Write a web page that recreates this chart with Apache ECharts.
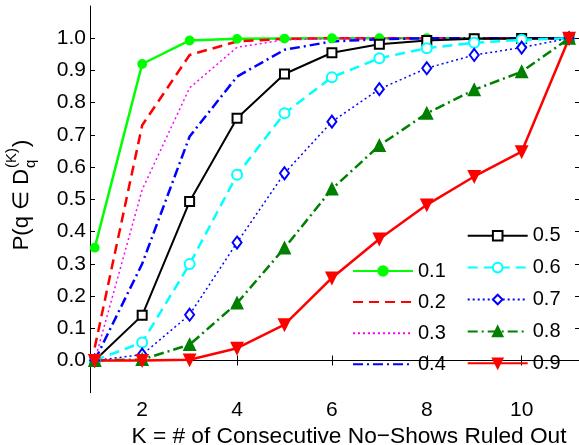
<!DOCTYPE html>
<html>
<head>
<meta charset="utf-8">
<script src="https://cdn.jsdelivr.net/npm/echarts@6/dist/echarts.min.js"></script>
<style>
html,body{margin:0;padding:0;background:#fff;}
#chart{width:579px;height:445px;}
</style>
</head>
<body>
<div id="chart"></div>
<script>
// ---- data ----
const K = [1, 2, 3, 4, 5, 6, 7, 8, 9, 10, 11];
const qNames = ['0.1', '0.2', '0.3', '0.4', '0.5', '0.6', '0.7', '0.8', '0.9'];
const p01 = [0.35, 0.92, 0.993, 0.998, 0.999, 1, 1, 1, 1, 1, 1];
const p02 = [0.04, 0.73, 0.948, 0.99, 0.998, 1, 1, 1, 1, 1, 1];
const p03 = [0.0, 0.53, 0.846, 0.972, 0.995, 0.999, 1, 1, 1, 1, 1];
const p04 = [0.0, 0.30, 0.695, 0.881, 0.964, 0.99, 0.997, 1, 1, 1, 1];
const p05 = [0.0, 0.14, 0.493, 0.752, 0.889, 0.955, 0.981, 0.993, 0.998, 0.999, 1];
const p06 = [0.0, 0.056, 0.299, 0.576, 0.767, 0.879, 0.938, 0.969, 0.986, 0.995, 1];
const p07 = [0.0, 0.018, 0.142, 0.366, 0.581, 0.741, 0.842, 0.907, 0.948, 0.971, 1];
const p08 = [0.0, 0.003, 0.049, 0.178, 0.349, 0.532, 0.667, 0.767, 0.840, 0.896, 1];
const p09 = [0.0, 0.0, 0.002, 0.038, 0.111, 0.256, 0.377, 0.483, 0.571, 0.648, 1];
const xTickLabels = ['2', '4', '6', '8', '10'];
const yTickLabels = ['0.0', '0.1', '0.2', '0.3', '0.4', '0.5', '0.6', '0.7', '0.8', '0.9', '1.0'];
const xTitle = 'K = # of Consecutive No\u2212Shows Ruled Out';

// ---- styles ----
const FONT = '"Liberation Sans", Arial, Helvetica, sans-serif';
const values = [p01, p02, p03, p04, p05, p06, p07, p08, p09];
const styles = [
  {color: '#00ff00', width: 2.5, type: 'solid', symbol: 'circle', size: 8},
  {color: '#ff0000', width: 2.5, type: [10, 6], symbol: 'none', size: 0},
  {color: '#ff00ff', width: 1.5, type: [2, 3], symbol: 'none', size: 0},
  {color: '#0000ff', width: 2.5, type: [10, 4, 2, 4], symbol: 'none', size: 0},
  {color: '#000000', width: 2, type: 'solid', symbol: 'emptyRect', size: 9},
  {color: '#00ffff', width: 2.5, type: [10, 6], symbol: 'emptyCircle', size: 10},
  {color: '#0000ff', width: 1.5, type: [2, 3], symbol: 'emptyDiamond', size: [9, 12]},
  {color: '#008000', width: 2.5, type: [10, 4, 2, 4], symbol: 'triangle', size: 11},
  {color: '#ff0000', width: 2.5, type: 'solid', symbol: 'triangle', size: 11, rotate: 180}
];

const xTicks = xTickLabels.map(Number);
const yTicks = yTickLabels.map(Number);

const series = values.map((vals, i) => {
  const s = styles[i];
  return {
    name: qNames[i],
    type: 'line',
    xAxisIndex: 0,
    yAxisIndex: 0,
    data: K.map((k, j) => [k, vals[j]]),
    symbol: s.symbol,
    symbolSize: s.size,
    symbolRotate: s.rotate || 0,
    showSymbol: s.symbol !== 'none',
    lineStyle: {color: s.color, width: s.width, type: s.type},
    itemStyle: {color: s.color, borderColor: s.color, borderWidth: 1.8},
    emphasis: {disabled: true},
    clip: false
  };
});

const legendData = (names) => names.map(n => {
  const i = qNames.indexOf(n);
  if (styles[i].symbol === 'none') {
    return {name: n, itemStyle: {opacity: 0}};
  }
  return {name: n};
});

const axisCommon = {
  axisLine: {show: true, lineStyle: {color: '#000', width: 1}},
  splitLine: {show: false}
};

const chart = echarts.init(document.getElementById('chart'));

// y-title pieces
const ctx = document.createElement('canvas').getContext('2d');
function tw(t, f) { ctx.font = f; return ctx.measureText(t).width; }
const fMain = '22px ' + FONT;
const fSmall = '15px ' + FONT;
const tMain = 'P(q \u2208 D';
const wMain = tw(tMain, fMain);
const wSup = tw('(K)', fSmall);
const wSub = tw('q', fSmall);
const wClose = tw(')', fMain);
const total = wMain + Math.max(wSup, wSub) + 2 + wClose;
const yCenter = 195;

const option = {
  animation: false,
  backgroundColor: '#fff',
  textStyle: {fontFamily: FONT},
  grid: {left: 90, top: 6, width: 490, height: 386.7, containLabel: false, outerBoundsMode: 'none'},
  xAxis: [
    Object.assign({}, axisCommon, {
      type: 'value', min: 0.9, max: 11.23, position: 'bottom',
      axisTick: {show: true, inside: true, length: 5, customValues: xTicks, lineStyle: {color: '#000'}},
      axisLabel: {customValues: xTicks, fontSize: 21, color: '#000', margin: 7, fontFamily: FONT,
        formatter: v => String(v)},
      name: xTitle, nameLocation: 'middle', nameGap: 30,
      nameTextStyle: {fontSize: 22.7, color: '#000', fontFamily: FONT, padding: [0, 0, 0, 28]}
    }),
    Object.assign({}, axisCommon, {
      type: 'value', min: 0.9, max: 11.23, position: 'top',
      axisTick: {show: true, inside: true, length: 5, customValues: xTicks, lineStyle: {color: '#000'}},
      axisLabel: {show: false}
    })
  ],
  yAxis: [
    Object.assign({}, axisCommon, {
      type: 'value', min: -0.1, max: 1.1, position: 'left',
      axisTick: {show: true, inside: true, length: 5, customValues: yTicks, lineStyle: {color: '#000'}},
      axisLabel: {customValues: yTicks, fontSize: 21, color: '#000', margin: 4, fontFamily: FONT,
        formatter: v => Number(v).toFixed(1)}
    }),
    Object.assign({}, axisCommon, {
      type: 'value', min: -0.1, max: 1.1, position: 'right',
      axisTick: {show: true, inside: true, length: 5, customValues: yTicks, lineStyle: {color: '#000'}},
      axisLabel: {show: false}
    })
  ],
  legend: [
    {
      data: legendData(qNames.slice(0, 4)), orient: 'vertical', left: 352, top: 261, padding: 0,
      itemWidth: 60, itemHeight: 12, itemGap: 11.1, selectedMode: false,
      textStyle: {fontSize: 20, color: '#000', fontFamily: FONT, lineHeight: 20}
    },
    {
      data: legendData(qNames.slice(4)), orient: 'vertical', left: 466.7, top: 225.7, padding: 0,
      itemWidth: 60, itemHeight: 12, itemGap: 11.9, selectedMode: false,
      textStyle: {fontSize: 20, color: '#000', fontFamily: FONT, lineHeight: 20}
    }
  ],
  graphic: [{
    type: 'group',
    x: 21.5,
    y: yCenter + total / 2,
    rotation: Math.PI / 2,
    children: [
      {type: 'text', x: 0, y: 0, style: {text: tMain, font: fMain, fill: '#000', align: 'left', verticalAlign: 'middle'}},
      {type: 'text', x: wMain + 1, y: -10, style: {text: '(K)', font: fSmall, fill: '#000', align: 'left', verticalAlign: 'middle'}},
      {type: 'text', x: wMain + 1, y: 9, style: {text: 'q', font: fSmall, fill: '#000', align: 'left', verticalAlign: 'middle'}},
      {type: 'text', x: wMain + Math.max(wSup, wSub) + 2, y: 0, style: {text: ')', font: fMain, fill: '#000', align: 'left', verticalAlign: 'middle'}}
    ]
  }],
  series: series
};
chart.setOption(option);
</script>
</body>
</html>
